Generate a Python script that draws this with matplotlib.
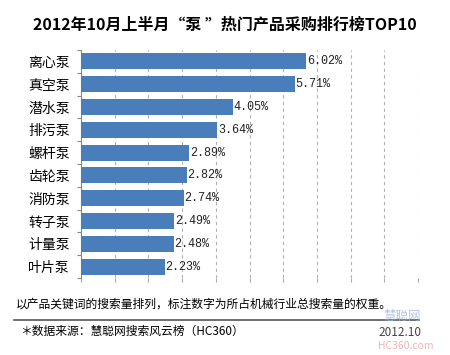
import matplotlib
matplotlib.use('Agg')
import matplotlib.pyplot as plt
import numpy as np

plt.rcParams['font.family'] = ['Noto Sans CJK SC', 'DejaVu Sans']

pumps = ['离心泵', '真空泵', '潜水泵', '排污泵', '螺杆泵', '齿轮泵', '消防泵', '转子泵', '计量泵', '叶片泵']
shares = [6.02, 5.71, 4.05, 3.64, 2.89, 2.82, 2.74, 2.49, 2.48, 2.23]
title = '2012年10月上半月“泵 ”热门产品采购排行榜TOP10'
note = '以产品关键词的搜索量排列，标注数字为所占机械行业总搜索量的权重。'
source = '＊数据来源：慧聪网搜索风云榜（HC360）'
date = '2012.10'

fig = plt.figure(figsize=(4.5, 3.55), dpi=100)
ax = fig.add_axes([0.18, 0.217, 0.749, 0.642])

y = np.arange(len(pumps))
ax.barh(y, shares, height=0.7, color='#4A7EBB', zorder=3)
for yi, v in zip(y, shares):
    ax.text(v + 0.02, yi, '%.2f%%' % v, va='center', ha='left',
            fontsize=8.5, family=['Liberation Mono', 'DejaVu Sans Mono'], color='#222222')

ax.set_xlim(0, 9)
ax.set_ylim(9.5, -0.5)
ax.set_xticks(np.arange(0, 9.01, 0.9))
ax.set_xticklabels([])
ax.xaxis.grid(True, linestyle=(0, (3, 3)), color='#B0B0B0', linewidth=0.8, zorder=0)
ax.set_yticks(np.arange(-0.5, 10, 1), minor=False)
ax.set_yticklabels([])
ax.set_yticks(y, minor=True)
ax.set_yticklabels(pumps, minor=True, fontsize=10)
ax.tick_params(axis='y', which='minor', length=0, pad=8)
ax.tick_params(axis='y', which='major', length=3, color='#888888')
ax.tick_params(axis='x', length=3, color='#AAAAAA', direction='out')
for s in ['top', 'right']:
    ax.spines[s].set_visible(False)
ax.spines['left'].set_color('#888888')
ax.spines['bottom'].set_visible(False)

fig.text(0.5, 0.93, title, ha='center', va='center', fontsize=11.5, fontweight='bold')
fig.text(0.035, 0.143, note, ha='left', va='center', fontsize=8.5)
fig.add_artist(plt.Line2D([0.032, 0.93], [0.1, 0.1], color='#555555', linewidth=1.2))
fig.text(0.045, 0.068, source, ha='left', va='center', fontsize=8.5)
fig.text(0.84, 0.062, date, ha='left', va='center', fontsize=8.5, color='#444444')
fig.text(0.935, 0.108, '慧聪网', ha='right', va='center', fontsize=9, color='#9DB7E0', alpha=0.8)
fig.text(0.84, 0.025, 'HC360.com', ha='left', va='center', fontsize=7.5, color='#F0A0A0', alpha=0.8)

fig.savefig('out.png', dpi=100)
